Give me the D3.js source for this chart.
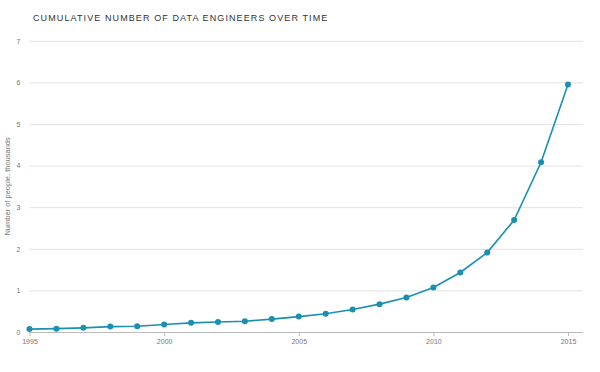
<!DOCTYPE html>
<html>
<head>
<meta charset="utf-8">
<script src="https://cdn.jsdelivr.net/npm/d3@7"></script>
<style>
  body { margin: 0; background: #fff; }
  svg { font-family: Arial, "Liberation Sans", sans-serif; }
  .title { font-size: 9px; letter-spacing: 1.1px; fill: #333; }
  .tick text { font-size: 7px; fill: #777; }
  .axis-label { font-size: 7.5px; fill: #777; }
</style>
</head>
<body>
<svg id="chart" width="600" height="372"></svg>
<script>
const years = [1995, 1996, 1997, 1998, 1999, 2000, 2001, 2002, 2003, 2004,
               2005, 2006, 2007, 2008, 2009, 2010, 2011, 2012, 2013, 2014, 2015]
const engineers = [0.07, 0.08, 0.10, 0.13, 0.14, 0.18, 0.22, 0.24, 0.26, 0.31,
                   0.37, 0.44, 0.54, 0.67, 0.83, 1.07, 1.43, 1.91, 2.69, 4.08, 5.95]
const xTicks = [1995, 2000, 2005, 2010, 2015]
const yTicks = [0, 1, 2, 3, 4, 5, 6, 7]

const svg = d3.select('#chart')
const data = years.map((y, i) => ({ year: y, value: engineers[i] }))

const xScale = d3.scaleLinear()
    .domain([1995, 2015])
    .range([29.5, 568])

const yScale = d3.scaleLinear()
    .domain([0, 7])
    .range([332, 40.8])

const color = '#1b8fb0'

svg.append('text')
    .attr('class', 'title')
    .attr('x', 33)
    .attr('y', 21)
    .text('CUMULATIVE NUMBER OF DATA ENGINEERS OVER TIME')

// y axis with gridlines
const yAxisG = svg.append('g')
    .attr('transform', 'translate(29.5,0)')
    .call(d3.axisLeft(yScale).tickValues(yTicks).tickFormat(d3.format('d')).tickSize(-553.5).tickPadding(9))
yAxisG.select('.domain').remove()
yAxisG.selectAll('.tick line')
    .attr('stroke', d => d === 0 ? '#bbb' : '#e2e2e2')
    .attr('stroke-width', d => d === 0 ? 1.2 : 1)

svg.append('text')
    .attr('class', 'axis-label')
    .attr('transform', `translate(10,${yScale(3.5)}) rotate(-90)`)
    .attr('text-anchor', 'middle')
    .text('Number of people, thousands')

// x axis
const xAxisG = svg.append('g')
    .attr('transform', `translate(0,${yScale(0)})`)
    .call(d3.axisBottom(xScale).tickValues(xTicks).tickFormat(d3.format('d')).tickSize(4).tickPadding(3))
xAxisG.select('.domain').remove()
xAxisG.selectAll('.tick line').attr('stroke', '#bbb')

const line = d3.line()
    .x(d => xScale(d.year))
    .y(d => yScale(d.value))

svg.append('path')
    .attr('d', line(data))
    .attr('fill', 'none')
    .attr('stroke', color)
    .attr('stroke-width', 1.6)

svg.selectAll('circle')
    .data(data)
    .enter()
    .append('circle')
    .attr('cx', d => xScale(d.year))
    .attr('cy', d => yScale(d.value))
    .attr('r', 3)
    .attr('fill', color)
</script>
</body>
</html>
